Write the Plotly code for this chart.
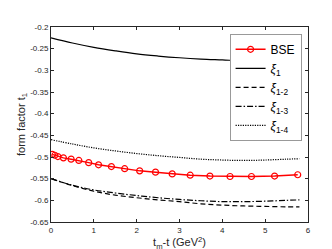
import plotly.graph_objects as go

# BSE points
bse_x = [0.03, 0.09, 0.16, 0.29, 0.47, 0.65, 0.88, 1.11, 1.41, 1.72, 2.07, 2.44, 2.83, 3.25, 3.71, 4.18, 4.68, 5.22, 5.76]
bse_y = [-0.494, -0.496, -0.499, -0.502, -0.505, -0.508, -0.513, -0.518, -0.522, -0.527, -0.532, -0.535, -0.539, -0.542, -0.544, -0.545, -0.545, -0.544, -0.541]

# curves
cx = [0, 0.5, 1, 1.5, 2, 2.5, 3, 3.5, 4, 4.5, 5, 5.5, 5.8]
xi1 = [-0.225, -0.237, -0.247, -0.255, -0.262, -0.267, -0.271, -0.274, -0.276, -0.278, -0.279, -0.28, -0.28]
xi12 = [-0.55, -0.566, -0.579, -0.588, -0.594, -0.599, -0.603, -0.608, -0.611, -0.613, -0.614, -0.615, -0.615]
xi13 = [-0.55, -0.565, -0.576, -0.583, -0.589, -0.594, -0.598, -0.601, -0.603, -0.603, -0.602, -0.600, -0.599]
xi14 = [-0.46, -0.470, -0.479, -0.486, -0.492, -0.497, -0.501, -0.505, -0.507, -0.508, -0.507, -0.505, -0.504]

xticks = [0, 1, 2, 3, 4, 5, 6]
xticktext = ["0", "1", "2", "3", "4", "5", "6"]
yticks = [-0.65, -0.6, -0.55, -0.5, -0.45, -0.4, -0.35, -0.3, -0.25, -0.2]
yticktext = ["-0.65", "-0.6", "-0.55", "-0.5", "-0.45", "-0.4", "-0.35", "-0.3", "-0.25", "-0.2"]

fig = go.Figure()
fig.add_trace(go.Scatter(x=bse_x, y=bse_y, mode="lines+markers", name="BSE",
                         line=dict(color="red", width=1.5),
                         marker=dict(symbol="circle-open", size=6, color="red", line=dict(width=1.2))))
fig.add_trace(go.Scatter(x=cx, y=xi1, mode="lines", name="<i>ξ</i><sub>1</sub>",
                         line=dict(color="black", width=1.2, shape="spline")))
fig.add_trace(go.Scatter(x=cx, y=xi12, mode="lines", name="<i>ξ</i><sub>1-2</sub>",
                         line=dict(color="black", width=1.2, dash="5px,3px", shape="spline")))
fig.add_trace(go.Scatter(x=cx, y=xi13, mode="lines", name="<i>ξ</i><sub>1-3</sub>",
                         line=dict(color="black", width=1.2, dash="6px,2px,1.5px,2px", shape="spline")))
fig.add_trace(go.Scatter(x=cx, y=xi14, mode="lines", name="<i>ξ</i><sub>1-4</sub>",
                         line=dict(color="black", width=1.2, dash="1.2px,1.2px", shape="spline")))

axcommon = dict(showgrid=False, zeroline=False, showline=True, linecolor="#262626", linewidth=1,
                mirror="ticks", ticks="inside", ticklen=3, tickcolor="#262626",
                tickfont=dict(family="Liberation Sans, Arial", size=8, color="#262626"))
fig.update_xaxes(range=[0, 6], tickvals=xticks, ticktext=xticktext,
                 title=dict(text="t<sub>m</sub>-t (GeV<sup>2</sup>)",
                            font=dict(family="Liberation Sans, Arial", size=11, color="#262626"), standoff=4),
                 **axcommon)
fig.update_yaxes(range=[-0.65, -0.2], tickvals=yticks, ticktext=yticktext,
                 title=dict(text="form factor t<sub>1</sub>",
                            font=dict(family="Liberation Sans, Arial", size=11, color="#262626"), standoff=2),
                 **axcommon)
fig.update_layout(width=332, height=249, margin=dict(l=43, r=32, t=19, b=35),
                  plot_bgcolor="white", paper_bgcolor="white",
                  legend=dict(x=0.975, y=0.965, xanchor="right", yanchor="top",
                              bgcolor="white", bordercolor="#999999", borderwidth=1,
                              font=dict(family="Liberation Sans, Arial", size=12, color="black"),
                              itemwidth=30, tracegroupgap=0))
fig.write_html("out.html")
